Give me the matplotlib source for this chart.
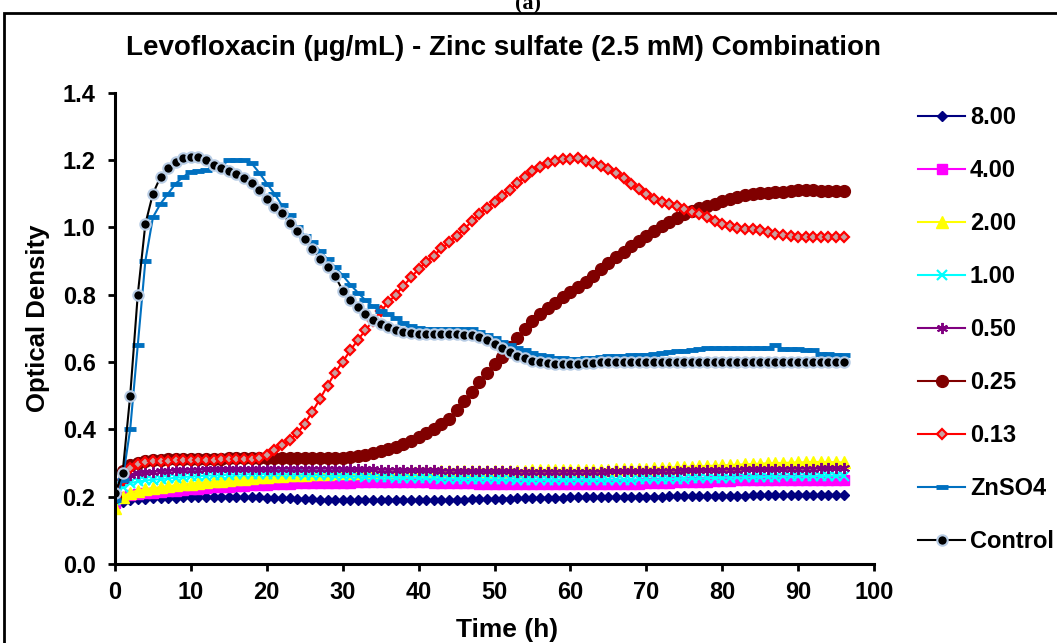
import matplotlib
matplotlib.use('Agg')
import matplotlib.pyplot as plt
from matplotlib.patches import Rectangle

plt.rcParams['font.family'] = ['Liberation Sans', 'DejaVu Sans']
plt.rcParams['font.weight'] = 'bold'

# sampling times (h)
hours = list(range(97))

c8_00 = [0.175, 0.185, 0.19, 0.193, 0.194, 0.195, 0.196, 0.197, 0.197, 0.198,
         0.198, 0.199, 0.199, 0.2, 0.2, 0.2, 0.199, 0.199, 0.198, 0.198,
         0.197, 0.197, 0.196, 0.195, 0.194, 0.193, 0.192, 0.191, 0.19, 0.19,
         0.19, 0.189, 0.189, 0.189, 0.189, 0.189, 0.19, 0.19, 0.19, 0.19,
         0.19, 0.19, 0.19, 0.19, 0.19, 0.191, 0.191, 0.192, 0.192, 0.193,
         0.193, 0.194, 0.194, 0.195, 0.195, 0.196, 0.196, 0.197, 0.197, 0.197,
         0.198, 0.198, 0.198, 0.198, 0.199, 0.199, 0.199, 0.2, 0.2, 0.2,
         0.2, 0.2, 0.2, 0.201, 0.201, 0.201, 0.201, 0.202, 0.202, 0.202,
         0.202, 0.203, 0.203, 0.203, 0.204, 0.204, 0.204, 0.204, 0.205, 0.205,
         0.205, 0.205, 0.205, 0.205, 0.205, 0.205, 0.205]

c4_00 = [0.18, 0.2, 0.205, 0.208, 0.21, 0.212, 0.214, 0.216, 0.218, 0.22,
         0.222, 0.224, 0.226, 0.228, 0.229, 0.23, 0.232, 0.233, 0.234, 0.235,
         0.236, 0.237, 0.238, 0.239, 0.24, 0.24, 0.24, 0.241, 0.241, 0.241,
         0.241, 0.241, 0.242, 0.242, 0.242, 0.242, 0.242, 0.242, 0.242, 0.242,
         0.242, 0.242, 0.241, 0.241, 0.241, 0.24, 0.24, 0.24, 0.239, 0.239,
         0.238, 0.238, 0.238, 0.237, 0.237, 0.237, 0.237, 0.237, 0.237, 0.237,
         0.237, 0.237, 0.237, 0.237, 0.238, 0.238, 0.238, 0.238, 0.239, 0.239,
         0.24, 0.24, 0.241, 0.241, 0.242, 0.242, 0.243, 0.243, 0.244, 0.245,
         0.246, 0.247, 0.248, 0.248, 0.249, 0.249, 0.25, 0.25, 0.25, 0.25,
         0.25, 0.25, 0.25, 0.25, 0.25, 0.25, 0.25]

c2_00 = [0.165, 0.2, 0.212, 0.218, 0.222, 0.225, 0.228, 0.231, 0.234, 0.237,
         0.239, 0.241, 0.243, 0.245, 0.247, 0.249, 0.251, 0.253, 0.255, 0.257,
         0.259, 0.261, 0.262, 0.263, 0.264, 0.265, 0.266, 0.267, 0.268, 0.269,
         0.27, 0.271, 0.271, 0.272, 0.272, 0.273, 0.273, 0.274, 0.274, 0.275,
         0.275, 0.275, 0.276, 0.276, 0.276, 0.276, 0.276, 0.276, 0.276, 0.276,
         0.277, 0.277, 0.277, 0.277, 0.277, 0.278, 0.278, 0.278, 0.278, 0.278,
         0.279, 0.279, 0.279, 0.28, 0.28, 0.28, 0.281, 0.281, 0.282, 0.282,
         0.283, 0.284, 0.285, 0.286, 0.287, 0.288, 0.289, 0.29, 0.291, 0.292,
         0.293, 0.294, 0.295, 0.296, 0.297, 0.298, 0.299, 0.3, 0.3, 0.301,
         0.302, 0.302, 0.303, 0.303, 0.303, 0.302, 0.302]

c1_00 = [0.19, 0.23, 0.24, 0.245, 0.248, 0.25, 0.252, 0.254, 0.256, 0.258,
         0.26, 0.261, 0.262, 0.263, 0.264, 0.265, 0.266, 0.266, 0.267, 0.267,
         0.267, 0.267, 0.267, 0.266, 0.266, 0.265, 0.265, 0.264, 0.263, 0.262,
         0.262, 0.261, 0.26, 0.259, 0.258, 0.258, 0.257, 0.256, 0.256, 0.255,
         0.255, 0.254, 0.254, 0.253, 0.253, 0.253, 0.252, 0.252, 0.252, 0.252,
         0.251, 0.251, 0.251, 0.25, 0.25, 0.25, 0.25, 0.25, 0.25, 0.25,
         0.25, 0.25, 0.25, 0.25, 0.25, 0.25, 0.25, 0.25, 0.25, 0.251,
         0.251, 0.251, 0.252, 0.252, 0.253, 0.253, 0.254, 0.254, 0.255, 0.255,
         0.256, 0.256, 0.257, 0.257, 0.258, 0.258, 0.259, 0.259, 0.26, 0.26,
         0.26, 0.261, 0.261, 0.261, 0.262, 0.262, 0.262]

c0_50 = [0.2, 0.25, 0.265, 0.27, 0.272, 0.274, 0.276, 0.277, 0.278, 0.279,
         0.28, 0.28, 0.281, 0.281, 0.281, 0.282, 0.282, 0.282, 0.282, 0.282,
         0.282, 0.283, 0.283, 0.283, 0.283, 0.283, 0.283, 0.283, 0.283, 0.283,
         0.282, 0.282, 0.282, 0.281, 0.281, 0.28, 0.28, 0.28, 0.279, 0.279,
         0.278, 0.278, 0.278, 0.277, 0.277, 0.277, 0.276, 0.276, 0.276, 0.275,
         0.275, 0.275, 0.275, 0.274, 0.274, 0.274, 0.274, 0.274, 0.274, 0.274,
         0.274, 0.274, 0.274, 0.274, 0.274, 0.275, 0.275, 0.275, 0.275, 0.276,
         0.276, 0.276, 0.277, 0.277, 0.277, 0.278, 0.278, 0.278, 0.279, 0.279,
         0.28, 0.28, 0.28, 0.281, 0.281, 0.281, 0.282, 0.282, 0.282, 0.283,
         0.283, 0.283, 0.283, 0.284, 0.284, 0.284, 0.284]

c0_25 = [0.2, 0.275, 0.295, 0.3, 0.305, 0.308, 0.31, 0.311, 0.312, 0.312,
         0.313, 0.313, 0.313, 0.313, 0.313, 0.314, 0.314, 0.314, 0.314, 0.314,
         0.314, 0.314, 0.314, 0.314, 0.314, 0.314, 0.315, 0.315, 0.315, 0.315,
         0.316, 0.318, 0.321, 0.325, 0.33, 0.335, 0.341, 0.348, 0.356, 0.366,
         0.377, 0.389, 0.402, 0.416, 0.432, 0.456, 0.483, 0.511, 0.54, 0.567,
         0.593, 0.616, 0.645, 0.672, 0.698, 0.722, 0.743, 0.76, 0.776, 0.792,
         0.807, 0.822, 0.838, 0.855, 0.875, 0.895, 0.912, 0.928, 0.944, 0.96,
         0.975, 0.99, 1.003, 1.015, 1.027, 1.038, 1.048, 1.056, 1.063, 1.07,
         1.077, 1.084, 1.09, 1.096, 1.1, 1.103, 1.103, 1.104, 1.106, 1.108,
         1.11, 1.11, 1.11, 1.109, 1.108, 1.108, 1.107]

c0_13 = [0.2, 0.25, 0.285, 0.297, 0.302, 0.305, 0.306, 0.307, 0.308, 0.309,
         0.31, 0.31, 0.31, 0.31, 0.311, 0.311, 0.311, 0.312, 0.313, 0.316,
         0.325, 0.338, 0.352, 0.368, 0.388, 0.417, 0.452, 0.49, 0.53, 0.568,
         0.6, 0.635, 0.665, 0.695, 0.722, 0.75, 0.777, 0.8, 0.826, 0.851,
         0.876, 0.897, 0.916, 0.937, 0.955, 0.974, 0.994, 1.018, 1.038, 1.058,
         1.075, 1.093, 1.112, 1.132, 1.148, 1.167, 1.18, 1.19, 1.198, 1.202,
         1.204, 1.205, 1.197, 1.19, 1.181, 1.172, 1.16, 1.147, 1.13, 1.113,
         1.098, 1.085, 1.075, 1.069, 1.062, 1.054, 1.046, 1.038, 1.03, 1.02,
         1.01, 1.003, 0.999, 0.996, 0.994, 0.992, 0.986, 0.98, 0.976, 0.973,
         0.971, 0.97, 0.97, 0.97, 0.97, 0.97, 0.97]

znso4 = [0.19, 0.25, 0.40, 0.65, 0.90, 1.03, 1.07, 1.10, 1.13, 1.15,
         1.165, 1.168, 1.17, 1.175, 1.18, 1.20, 1.20, 1.20, 1.19, 1.162,
         1.13, 1.10, 1.065, 1.035, 1.0, 0.975, 0.955, 0.93, 0.905, 0.882,
         0.857, 0.83, 0.806, 0.783, 0.765, 0.752, 0.743, 0.73, 0.716, 0.707,
         0.702, 0.699, 0.698, 0.697, 0.697, 0.698, 0.698, 0.697, 0.69, 0.68,
         0.67, 0.66, 0.65, 0.642, 0.635, 0.628, 0.622, 0.617, 0.613, 0.611,
         0.61, 0.61, 0.611, 0.613, 0.615, 0.617, 0.618, 0.619, 0.62, 0.621,
         0.622, 0.624, 0.627, 0.63, 0.632, 0.634, 0.636, 0.638, 0.64, 0.641,
         0.641, 0.641, 0.641, 0.641, 0.641, 0.641, 0.641, 0.649, 0.639, 0.638,
         0.637, 0.636, 0.635, 0.624, 0.623, 0.622, 0.621]

control = [0.21, 0.27, 0.50, 0.80, 1.01, 1.10, 1.15, 1.175, 1.195, 1.205,
           1.21, 1.21, 1.20, 1.186, 1.176, 1.166, 1.157, 1.147, 1.132, 1.112,
           1.083, 1.061, 1.043, 1.012, 0.989, 0.964, 0.935, 0.907, 0.881, 0.855,
           0.812, 0.785, 0.762, 0.743, 0.726, 0.713, 0.703, 0.695, 0.688, 0.686,
           0.683, 0.683, 0.682, 0.682, 0.682, 0.682, 0.681, 0.679, 0.674, 0.664,
           0.654, 0.641, 0.629, 0.619, 0.611, 0.604, 0.6, 0.597, 0.595, 0.594,
           0.594, 0.595, 0.597, 0.598, 0.599, 0.6, 0.6, 0.6, 0.6, 0.6,
           0.6, 0.6, 0.6, 0.6, 0.6, 0.6, 0.6, 0.6, 0.6, 0.6,
           0.6, 0.6, 0.6, 0.6, 0.6, 0.6, 0.6, 0.6, 0.6, 0.6,
           0.6, 0.6, 0.6, 0.6, 0.6, 0.6, 0.6]

fig = plt.figure(figsize=(10.57, 6.43), dpi=100)
ax = fig.add_axes([0.1088, 0.1229, 0.7181, 0.7331])

lw = 1.5
ax.plot(hours, c8_00, color='#000080', lw=lw, marker='D', ms=5.5, label='8.00')
ax.plot(hours, c4_00, color='#ff00ff', lw=lw, marker='s', ms=6.5, label='4.00')
ax.plot(hours, c2_00, color='#ffff00', lw=lw, marker='^', ms=8, label='2.00')
ax.plot(hours, c1_00, color='#00ffff', lw=lw, marker='x', ms=7, mew=1.6, label='1.00')
ax.plot(hours, c0_50, color='#800080', lw=lw, marker=(6, 2, 0), ms=8, mew=1.4,
        label='0.50')
ax.plot(hours, c0_25, color='#800000', lw=lw, marker='o', ms=8.5, label='0.25')
ax.plot(hours, c0_13, color='#ff0000', lw=lw, marker='D', ms=5, mew=1.6,
        mfc='#c8a0a0', mec='#ff0000', label='0.13')
ax.plot(hours, znso4, color='#0070c0', lw=lw, marker='_', ms=9, mew=3.5,
        label='ZnSO4')
ax.plot(hours, control, color='black', lw=lw, marker='o', ms=7.5, mfc='black',
        mec='#b9cde5', mew=1.5, label='Control')

ax.set_xlim(0, 100)
ax.set_ylim(0, 1.4)
ax.set_xticks(range(0, 101, 10))
ax.set_yticks([0.0, 0.2, 0.4, 0.6, 0.8, 1.0, 1.2, 1.4])
ax.set_yticklabels(['0.0', '0.2', '0.4', '0.6', '0.8', '1.0', '1.2', '1.4'])
ax.spines['top'].set_visible(False)
ax.spines['right'].set_visible(False)
ax.spines['left'].set_linewidth(2.2)
ax.spines['bottom'].set_linewidth(2.2)
ax.tick_params(width=2, length=5, labelsize=17, color='black')
ax.tick_params(axis='y', pad=9)
ax.tick_params(axis='x', pad=7)

fig.text(0.476, 0.925, 'Levofloxacin (µg/mL) - Zinc sulfate (2.5 mM) Combination',
         ha='center', va='center', fontsize=20, fontweight='bold')
fig.text(38 / 1057, 1 - 318 / 643, 'Optical Density', rotation=90,
         ha='center', va='center', fontsize=18.5, fontweight='bold')
fig.text(507 / 1057, 1 - 630 / 643, 'Time (h)', ha='center', va='center',
         fontsize=19, fontweight='bold')
fig.text(0.5, 1 - 14 / 643, '(a)', ha='center', va='bottom', fontsize=16,
         fontweight='bold', family='Liberation Serif')

ax.legend(loc='upper left', bbox_to_anchor=(918 / 1057, 1 - 106 / 643),
          bbox_transform=fig.transFigure, frameon=False,
          prop={'size': 17, 'weight': 'bold'}, handlelength=2.0,
          handletextpad=0.2, labelspacing=1.27, borderaxespad=0, borderpad=0)

# outer chart frame
fig.patches.append(Rectangle((4 / 1057, -0.1), 1.2, 1 - 13 / 643 + 0.1,
                             transform=fig.transFigure, fill=False,
                             lw=2, ec='black'))

fig.savefig('out.png', dpi=100)
